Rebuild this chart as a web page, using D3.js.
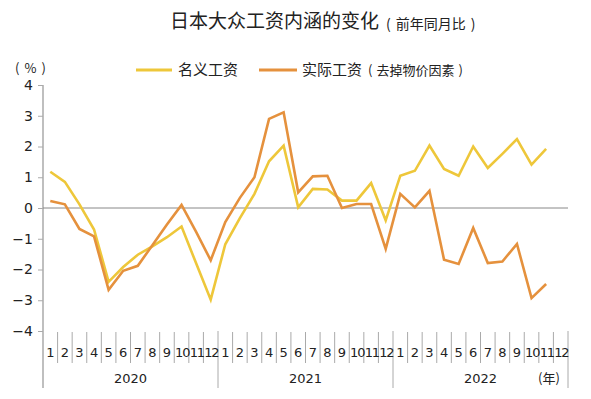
<!DOCTYPE html>
<html><head><meta charset="utf-8">
<script src="https://cdn.jsdelivr.net/npm/d3@7"></script>
<style>body{margin:0;background:#fff}svg{display:block}</style>
</head><body>
<svg id="c" width="591" height="399"></svg>
<script>
const years = ["2020","2021","2022"];
const months = ["1","2","3","4","5","6","7","8","9","10","11","12"];
const nominal = [1.18,0.85,0.12,-0.7,-2.4,-1.92,-1.52,-1.25,-0.95,-0.6,-1.8,-2.98,
                 -1.18,-0.33,0.46,1.52,2.03,0.02,0.62,0.6,0.24,0.24,0.81,-0.4,
                 1.05,1.21,2.03,1.27,1.05,2.0,1.3,1.76,2.24,1.41,1.92];
const real = [0.23,0.12,-0.68,-0.92,-2.66,-2.04,-1.88,-1.21,-0.54,0.1,-0.78,-1.7,
              -0.46,0.33,1.0,2.9,3.11,0.51,1.03,1.05,0.0,0.13,0.13,-1.33,
              0.46,0.02,0.56,-1.68,-1.82,-0.65,-1.79,-1.74,-1.17,-2.93,-2.47];
const yTicks = [4,3,2,1,0,-1,-2,-3,-4];
const seriesNames = ["名义工资","实际工资"];
const colors = ["#EEC73A","#E5913D"];

const svg = d3.select("#c");
const font = "DejaVu Sans, Verdana, sans-serif";
const cjk = "'Noto Sans CJK SC', sans-serif";
const cats = d3.range(36);
const x = d3.scaleBand().domain(cats).range([43,568]).padding(0);
const y = d3.scaleLinear().domain([-4,4]).range([331,85]);
const w = x.bandwidth();

function paren(sel, inner, size, gap, dx0, dy0){
  sel.append("tspan").attr("font-size",size).attr("dx",dx0||0).attr("dy",dy0||0).text("(");
  sel.append("tspan").attr("font-size",size).attr("dx",gap).text(inner);
  sel.append("tspan").attr("font-size",size).attr("dx",gap).text(")");
}

// title
const t = svg.append("text").attr("x",170).attr("y",28).attr("font-family",cjk).attr("fill","#222");
t.append("tspan").attr("font-size",19).text("日本大众工资内涵的变化");
paren(t,"前年同月比",14,5,7,1);

// unit
const u = svg.append("text").attr("x",15).attr("y",73).attr("font-family",cjk).attr("fill","#222");
paren(u,"%",13,5,0,0);

// legend
const lg = [{x1:136,x2:172,tx:178},{x1:259,x2:297,tx:302}];
lg.forEach((d,i)=>{
  svg.append("line").attr("x1",d.x1).attr("x2",d.x2).attr("y1",70).attr("y2",70)
    .attr("stroke",colors[i]).attr("stroke-width",3);
  const tt = svg.append("text").attr("x",d.tx).attr("y",75).attr("font-family",cjk).attr("fill","#222");
  tt.append("tspan").attr("font-size",15).text(seriesNames[i]);
  if(i===1) paren(tt,"去掉物价因素",13,4,6,0);
});

// y axis
const yAxis = d3.axisLeft(y).tickValues(yTicks).tickSize(5).tickPadding(5).tickFormat(d3.format("d"));
const ga = svg.append("g").attr("transform","translate(43,0)").call(yAxis);
ga.select(".domain").remove();
ga.selectAll(".tick line").attr("stroke","#aaa");
ga.selectAll(".tick text").attr("font-family",font).attr("font-size",14).attr("fill","#222");
svg.append("line").attr("x1",43).attr("x2",43).attr("y1",85).attr("y2",388).attr("stroke","#aaa").attr("stroke-width",1.5);

// zero line
svg.append("line").attr("x1",43).attr("x2",568).attr("y1",y(0)).attr("y2",y(0)).attr("stroke","#888").attr("stroke-width",1);

// x category ticks
cats.forEach(i=>{
  if(i===0) return;
  const xx = x(i);
  const yearB = i%12===0;
  svg.append("line").attr("x1",xx).attr("x2",xx).attr("y1",yearB?331:332).attr("y2",yearB?388:363)
    .attr("stroke","#aaa").attr("stroke-width",1);
});
svg.append("line").attr("x1",568).attr("x2",568).attr("y1",331).attr("y2",388).attr("stroke","#aaa").attr("stroke-width",1);

cats.forEach(i=>{
  const lbl = months[i%12];
  const tx = svg.append("text").attr("x",x(i)+w/2).attr("y",357).attr("text-anchor","middle")
    .attr("font-family",font).attr("font-size",13).attr("fill","#222").text(lbl);
  if(lbl.length>1) tx.attr("letter-spacing",-1.2).attr("dx",0.6);
});
years.forEach((yr,j)=>{
  svg.append("text").attr("x",x(j*12)+6*w).attr("y",383).attr("text-anchor","middle")
    .attr("font-family",font).attr("font-size",13).attr("fill","#222").text(yr);
});
svg.append("text").attr("x",549).attr("y",383).attr("text-anchor","middle")
  .attr("font-family",cjk).attr("font-size",13).attr("fill","#222").text("(年)");

// lines
const line = d3.line().x((d,i)=>x(i)+w/2).y(d=>y(d));
[nominal, real].forEach((s,i)=>{
  svg.append("path").datum(s).attr("d",line).attr("fill","none")
    .attr("stroke",colors[i]).attr("stroke-width",2.6).attr("stroke-linejoin","miter");
});
</script>
</body></html>
